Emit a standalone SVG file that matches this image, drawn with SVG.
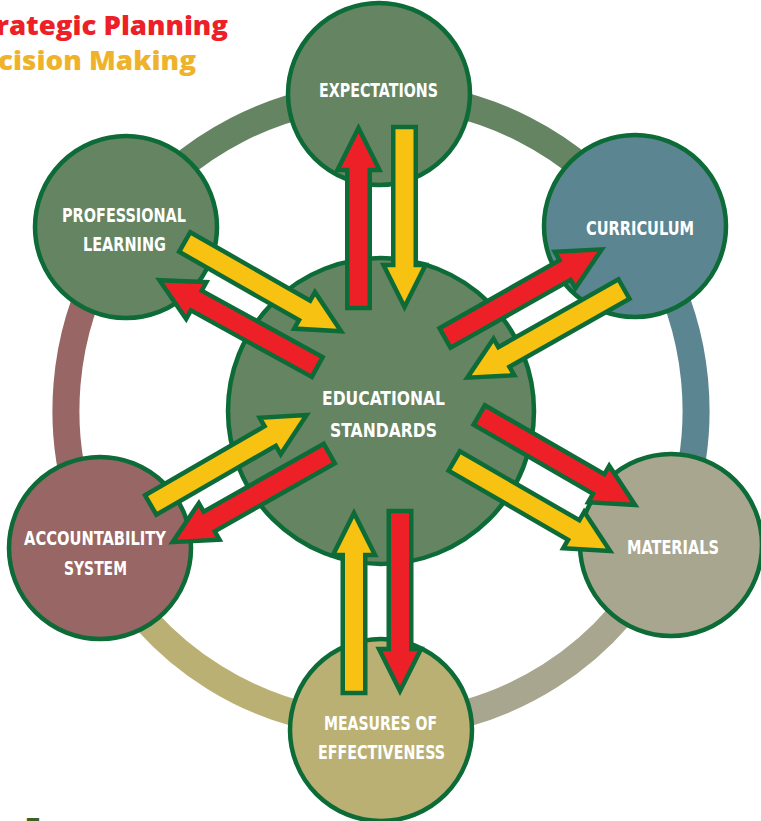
<svg xmlns="http://www.w3.org/2000/svg" xmlns:xlink="http://www.w3.org/1999/xlink" width="761" height="821" viewBox="0 0 761 821">
  <style>
    .ring { fill: none; stroke-width: 27; }
    .node { stroke: #0c6b37; stroke-width: 4.5; }
    .label { font-family: "DejaVu Sans Condensed", "DejaVu Sans", sans-serif; font-weight: bold; font-size: 20px; fill: #ffffff; text-anchor: middle; }
    .arrow { stroke: #0c6b37; stroke-width: 4.5; stroke-linejoin: miter; stroke-miterlimit: 10; }
    .red { fill: #ee2027; }
    .yellow { fill: #f8c213; }
    .title { font-family: "Open Sans", "DejaVu Sans", sans-serif; font-weight: 800; font-size: 27px; text-anchor: end; }
  </style>
  <defs>
    <!-- block arrow pointing along +x, tail at the origin -->
    <path id="blockArrow" d="M0,-11.25 H138 V-21 L180,0 L138,21 V11.25 H0 Z"/>
  </defs>

  <rect width="761" height="821" fill="#ffffff"/>

  <!-- header lines -->
  <text class="title" x="228" y="35" fill="#ee2027" textLength="232" lengthAdjust="spacingAndGlyphs">rategic Planning</text>
  <text class="title" x="196" y="70" fill="#eeb32a" textLength="198" lengthAdjust="spacingAndGlyphs">cision Making</text>

  <!-- outer ring, one coloured arc per node -->
  <g id="ring">
    <path class="ring" stroke="#648462" d="M381,95 A315,315 0 0 1 636.2,225.3"/>
    <path class="ring" stroke="#5b8591" d="M636.2,225.3 A315,315 0 0 1 666.5,543.1"/>
    <path class="ring" stroke="#a8a68f" d="M666.5,543.1 A315,315 0 0 1 381,725"/>
    <path class="ring" stroke="#bbb073" d="M381,725 A315,315 0 0 1 98.3,549.1"/>
    <path class="ring" stroke="#986664" d="M98.3,549.1 A315,315 0 0 1 125.2,226.2"/>
    <path class="ring" stroke="#648462" d="M125.2,226.2 A315,315 0 0 1 381,95"/>
  </g>

  <g id="educational-standards">
    <circle class="node" cx="381" cy="411" r="153" fill="#648462"/>
    <text class="label" x="383.5" y="405" textLength="123" lengthAdjust="spacingAndGlyphs">EDUCATIONAL</text>
    <text class="label" x="383.5" y="437" textLength="107" lengthAdjust="spacingAndGlyphs">STANDARDS</text>
  </g>

  <g id="expectations">
    <circle class="node" cx="379" cy="94" r="91" fill="#648462"/>
    <text class="label" x="378.5" y="97" textLength="119" lengthAdjust="spacingAndGlyphs">EXPECTATIONS</text>
  </g>

  <g id="curriculum">
    <circle class="node" cx="635" cy="226" r="91" fill="#5b8591"/>
    <text class="label" x="640" y="235" textLength="108" lengthAdjust="spacingAndGlyphs">CURRICULUM</text>
  </g>

  <g id="materials">
    <circle class="node" cx="671" cy="545" r="91" fill="#a8a68f"/>
    <text class="label" x="673" y="554" textLength="92" lengthAdjust="spacingAndGlyphs">MATERIALS</text>
  </g>

  <g id="measures-of-effectiveness">
    <circle class="node" cx="381" cy="730" r="91" fill="#bbb073"/>
    <text class="label" x="380.5" y="730" textLength="113" lengthAdjust="spacingAndGlyphs">MEASURES OF</text>
    <text class="label" x="381.5" y="759" textLength="127" lengthAdjust="spacingAndGlyphs">EFFECTIVENESS</text>
  </g>

  <g id="accountability-system">
    <circle class="node" cx="100" cy="548" r="91" fill="#986664"/>
    <text class="label" x="95" y="545" textLength="142" lengthAdjust="spacingAndGlyphs">ACCOUNTABILITY</text>
    <text class="label" x="95.5" y="575" textLength="63" lengthAdjust="spacingAndGlyphs">SYSTEM</text>
  </g>

  <g id="professional-learning">
    <circle class="node" cx="126" cy="227" r="91" fill="#648462"/>
    <text class="label" x="124" y="222" textLength="124" lengthAdjust="spacingAndGlyphs">PROFESSIONAL</text>
    <text class="label" x="124.5" y="251" textLength="83" lengthAdjust="spacingAndGlyphs">LEARNING</text>
  </g>

  <!-- connectors: paired block arrows between the hub and each node -->
  <g id="connectors">
    <!-- expectations -->
    <use xlink:href="#blockArrow" class="arrow red" transform="translate(358.5,308) rotate(-90)"/>
    <use xlink:href="#blockArrow" class="arrow yellow" transform="translate(404.5,127) rotate(90)"/>
    <!-- curriculum -->
    <use xlink:href="#blockArrow" class="arrow red" transform="translate(445,338) rotate(-29.5)"/>
    <use xlink:href="#blockArrow" class="arrow yellow" transform="translate(624,289) rotate(150.5)"/>
    <!-- materials -->
    <use xlink:href="#blockArrow" class="arrow red" transform="translate(479.2,415) rotate(30)"/>
    <use xlink:href="#blockArrow" class="arrow yellow" transform="translate(454.2,461) rotate(30)"/>
    <!-- measures of effectiveness -->
    <use xlink:href="#blockArrow" class="arrow yellow" transform="translate(354,693) rotate(-90)"/>
    <use xlink:href="#blockArrow" class="arrow red" transform="translate(400,511) rotate(90)"/>
    <!-- accountability system -->
    <use xlink:href="#blockArrow" class="arrow yellow" transform="translate(150.7,505) rotate(-30)"/>
    <use xlink:href="#blockArrow" class="arrow red" transform="translate(329.3,453.5) rotate(150.5)"/>
    <!-- professional learning -->
    <use xlink:href="#blockArrow" class="arrow yellow" transform="translate(184.7,242) rotate(29.7)"/>
    <use xlink:href="#blockArrow" class="arrow red" transform="translate(317.2,367) rotate(208.8)"/>
  </g>

  <!-- page number -->
  <text x="33" y="836" font-family="Liberation Sans, sans-serif" font-weight="bold" font-size="26" fill="#3f6128" text-anchor="middle">7</text>
</svg>
